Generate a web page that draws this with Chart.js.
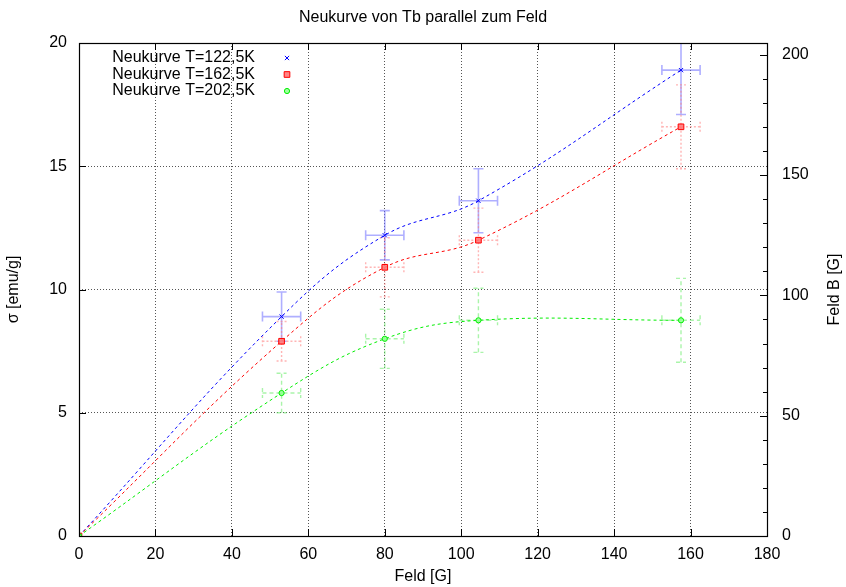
<!DOCTYPE html>
<html><head><meta charset="utf-8">
<script src="https://cdn.jsdelivr.net/npm/chart.js@4/dist/chart.umd.min.js"></script>
<style>html,body{margin:0;padding:0;background:#fff}#wrap{width:846px;height:587px}</style>
</head><body><div id="wrap"><canvas id="c" width="846" height="587"></canvas></div>
<script>
// ---- data ----
const chartTitle = 'Neukurve von Tb parallel zum Feld';
const seriesNames = ['Neukurve T=122,5K', 'Neukurve T=162,5K', 'Neukurve T=202,5K'];
const xTitle = 'Feld [G]';
const yTitle = 'σ [emu/g]';
const y2Title = 'Feld B [G]';
const feld = [0, 53, 80, 104.5, 157.5];
const feldErr = [0, 5, 5, 5, 5];
const sigma122 = [0, 8.9, 12.2, 13.6, 18.9];
const err122 = [0, 1.0, 1.0, 1.3, 1.8];
const sigma162 = [0, 7.9, 10.9, 12.0, 16.6];
const err162 = [0, 0.8, 1.2, 1.3, 1.7];
const sigma202 = [0, 5.8, 8.0, 8.75, 8.75];
const err202 = [0, 0.8, 1.2, 1.3, 1.7];
const xTickValues = [0, 20, 40, 60, 80, 100, 120, 140, 160, 180];
const yTickValues = [0, 5, 10, 15, 20];
const y2TickValues = [0,10,20,30,40,50,60,70,80,90,100,110,120,130,140,150,160,170,180,190,200];
const y2LabelValues = [0, 50, 100, 150, 200];

const FONT = 'Liberation Sans, Arial, Helvetica, sans-serif';
const colors = ['#0000ff', '#ff0000', '#00ee00'];
const errStyles = [
  {color: 'rgba(110,110,255,0.55)', width: 1.6, dash: []},
  {color: 'rgba(255,120,120,0.55)', width: 1.4, dash: [2, 2]},
  {color: 'rgba(100,235,100,0.55)', width: 1.4, dash: [4, 3]}
];
const pointStyles = ['crossRot', 'rect', 'circle'];
const pointRadii = [3, 4, 2.6];
const pointFills = ['#0000ff', 'rgba(255,120,120,0.9)', 'rgba(150,255,150,0.9)'];
const legendRows = [58, 74.5, 91];

function mk(vals) { return feld.map((x, i) => ({x: x, y: vals[i]})); }
const sigmaSets = [sigma122, sigma162, sigma202];
const errSets = [err122, err162, err202];

const datasets = sigmaSets.map((s, i) => ({
  label: seriesNames[i],
  data: mk(s),
  yErr: errSets[i],
  xErr: feldErr,
  showLine: true,
  borderColor: colors[i],
  borderWidth: 1,
  borderDash: [3, 3],
  tension: 0.4,
  pointStyle: pointStyles[i],
  pointRadius: pointRadii[i],
  pointBorderColor: colors[i],
  pointBackgroundColor: pointFills[i],
  pointBorderWidth: 1,
  fill: false,
  order: 3 - i
}));

const errorBarPlugin = {
  id: 'errbars',
  beforeDatasetsDraw(chart) {
    const {ctx, chartArea: a, scales: {x, y}} = chart;
    const cap = 5;
    ctx.save();
    ctx.beginPath(); ctx.rect(a.left, a.top, a.right - a.left, a.bottom - a.top); ctx.clip();
    chart.data.datasets.forEach((ds, i) => {
      const st = errStyles[i];
      ctx.strokeStyle = st.color; ctx.lineWidth = st.width; ctx.setLineDash(st.dash);
      ds.data.forEach((p, j) => {
        const ey = ds.yErr[j], ex = ds.xErr[j];
        if (!ey && !ex) return;
        const px = x.getPixelForValue(p.x), py = y.getPixelForValue(p.y);
        const y1 = y.getPixelForValue(p.y - ey), y2 = y.getPixelForValue(p.y + ey);
        const x1 = x.getPixelForValue(p.x - ex), x2 = x.getPixelForValue(p.x + ex);
        ctx.beginPath();
        ctx.moveTo(px, y1); ctx.lineTo(px, y2);
        ctx.moveTo(px - cap, y1); ctx.lineTo(px + cap, y1);
        ctx.moveTo(px - cap, y2); ctx.lineTo(px + cap, y2);
        ctx.moveTo(x1, py); ctx.lineTo(x2, py);
        ctx.moveTo(x1, py - cap); ctx.lineTo(x1, py + cap);
        ctx.moveTo(x2, py - cap); ctx.lineTo(x2, py + cap);
        ctx.stroke();
      });
    });
    ctx.restore();
  }
};

const framePlugin = {
  id: 'frame',
  afterDraw(chart) {
    const {ctx, chartArea: a, scales: {x, y, y2}} = chart;
    ctx.save();
    ctx.setLineDash([]);
    ctx.strokeStyle = '#000'; ctx.lineWidth = 1;
    ctx.beginPath();
    xTickValues.forEach(v => {
      const px = Math.round(x.getPixelForValue(v)) + 0.5;
      ctx.moveTo(px, a.bottom); ctx.lineTo(px, a.bottom - 7);
      ctx.moveTo(px, a.top); ctx.lineTo(px, a.top + 7);
    });
    yTickValues.forEach(v => {
      const py = Math.round(y.getPixelForValue(v)) + 0.5;
      ctx.moveTo(a.left, py); ctx.lineTo(a.left + 7, py);
    });
    y2TickValues.forEach(v => {
      const py = Math.round(y2.getPixelForValue(v)) + 0.5;
      const len = y2LabelValues.includes(v) ? 7 : 4;
      ctx.moveTo(a.right, py); ctx.lineTo(a.right - len, py);
    });
    ctx.stroke();
    ctx.lineWidth = 1.2;
    ctx.strokeRect(Math.round(a.left) + 0.5, Math.round(a.top) + 0.5, Math.round(a.right - a.left), Math.round(a.bottom - a.top));
    // texts
    ctx.fillStyle = '#000';
    ctx.font = '16px ' + FONT;
    ctx.textAlign = 'center'; ctx.textBaseline = 'middle';
    ctx.fillText(chartTitle, (a.left + a.right) / 2, 18);
    ctx.save();
    ctx.translate(835, (a.top + a.bottom) / 2);
    ctx.rotate(-Math.PI / 2);
    ctx.fillText(y2Title, 0, 0);
    ctx.restore();
    // legend
    seriesNames.forEach((n, i) => {
      ctx.textAlign = 'right';
      ctx.fillStyle = '#000';
      ctx.fillText(n, 255, legendRows[i]);
      ctx.save();
      ctx.strokeStyle = colors[i]; ctx.fillStyle = pointFills[i]; ctx.lineWidth = 1;
      Chart.helpers.drawPoint(ctx, {pointStyle: pointStyles[i], radius: pointRadii[i], borderWidth: 1}, 287, legendRows[i]);
      ctx.restore();
    });
    ctx.restore();
  }
};

const tickFont = {family: FONT, size: 16};
new Chart(document.getElementById('c'), {
  type: 'scatter',
  data: {datasets: datasets},
  options: {
    responsive: false, animation: false, devicePixelRatio: 1,
    layout: {padding: {top: 43, left: 0, right: 0, bottom: 0}},
    plugins: {legend: {display: false}, title: {display: false}, tooltip: {enabled: false}},
    elements: {line: {capBezierPoints: true}},
    scales: {
      x: {
        type: 'linear', position: 'bottom', min: 0, max: 180,
        afterBuildTicks: s => { s.ticks = xTickValues.map(v => ({value: v})); },
        ticks: {font: tickFont, color: '#000', padding: 9, maxRotation: 0, autoSkip: false},
        grid: {drawTicks: false, color: '#555', lineWidth: 1},
        border: {display: false, dash: [1, 2]},
        title: {display: true, text: xTitle, font: tickFont, color: '#000', padding: {top: 0, bottom: 1}},
        afterFit: s => { s.height = 51; }
      },
      y: {
        type: 'linear', position: 'left', min: 0, max: 20,
        afterBuildTicks: s => { s.ticks = yTickValues.map(v => ({value: v})); },
        ticks: {font: tickFont, color: '#000', padding: 12},
        grid: {drawTicks: false, color: '#555', lineWidth: 1},
        border: {display: false, dash: [1, 2]},
        title: {display: true, text: yTitle, font: tickFont, color: '#000', padding: {top: 4, bottom: 0}},
        afterFit: s => { s.width = 79; }
      },
      y2: {
        type: 'linear', position: 'right', min: 0, max: 204.9,
        afterBuildTicks: s => { s.ticks = y2TickValues.map(v => ({value: v})); },
        ticks: {font: tickFont, color: '#000', padding: 15, autoSkip: false,
          callback: v => y2LabelValues.includes(v) ? String(v) : ''},
        grid: {display: false, drawTicks: false},
        border: {display: false},
        afterFit: s => { s.width = 79; }
      }
    }
  },
  plugins: [errorBarPlugin, framePlugin]
});
</script>
</body></html>
